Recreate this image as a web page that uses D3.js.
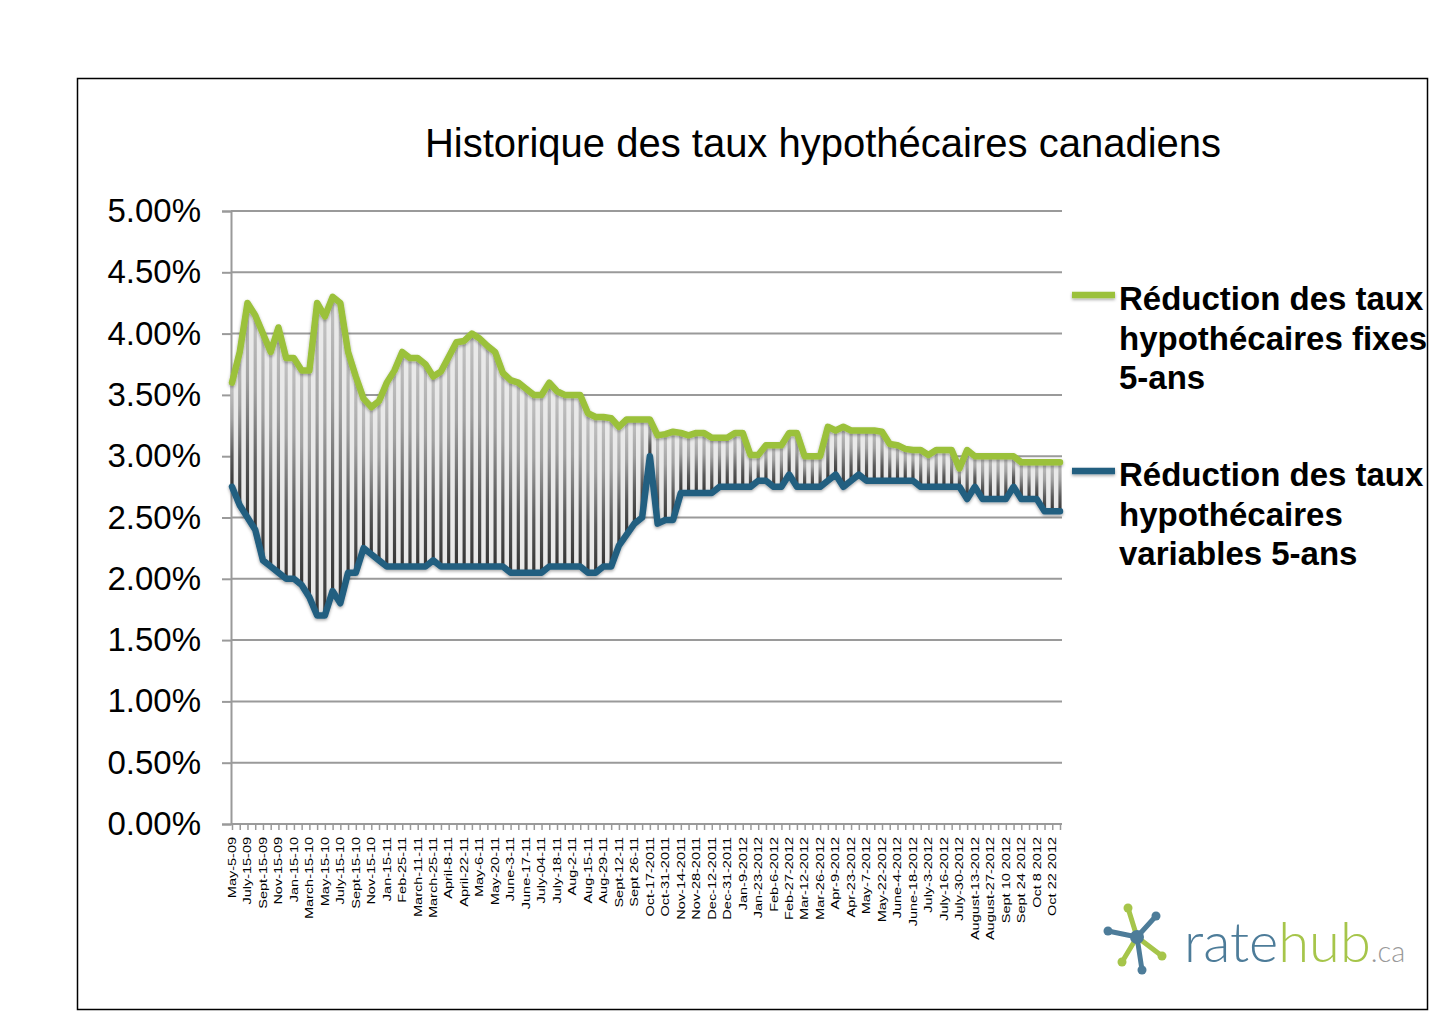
<!DOCTYPE html>
<html>
<head>
<meta charset="utf-8">
<script src="https://cdn.jsdelivr.net/npm/d3@7"></script>
<style>
  html, body { margin: 0; padding: 0; background: #fff; }
  svg { display: block; }
</style>
</head>
<body>
<svg id="chart" width="1437" height="1013"></svg>
<script>
// ---------------- DATA ----------------
const chartTitle = "Historique des taux hypothécaires canadiens";

// Labels shown on the x axis (every second category of the 108 observations)
const shownLabels = [
  "May-5-09","July-15-09","Sept-15-09","Nov-15-09","Jan-15-10","March-15-10","May-15-10",
  "July-15-10","Sept-15-10","Nov-15-10","Jan-15-11","Feb-25-11","March-11-11","March-25-11",
  "April-8-11","April-22-11","May-6-11","May-20-11","June-3-11","June-17-11","July-04-11",
  "July-18-11","Aug-2-11","Aug-15-11","Aug-29-11","Sept-12-11","Sept 26-11","Oct-17-2011",
  "Oct-31-2011","Nov-14-2011","Nov-28-2011","Dec-12-2011","Dec-31-2011","Jan-9-2012",
  "Jan-23-2012","Feb-6-2012","Feb-27-2012","Mar-12-2012","Mar-26-2012","Apr-9-2012",
  "Apr-23-2012","May-7-2012","May-22-2012","June-4-2012","June-18-2012","July-3-2012",
  "July-16-2012","July-30-2012","August-13-2012","August-27-2012","Sept 10 2012",
  "Sept 24 2012","Oct 8 2012","Oct 22 2012"
];

// 5-year fixed rate (%)
const fixedRates = [
  3.60,3.85,4.25,4.15,4.00,3.85,4.05,3.80,3.80,3.70,
  3.70,4.25,4.14,4.30,4.25,3.85,3.65,3.47,3.40,3.45,
  3.60,3.70,3.85,3.80,3.80,3.75,3.65,3.69,3.81,3.93,
  3.94,4.00,3.96,3.90,3.85,3.68,3.62,3.60,3.55,3.50,
  3.50,3.60,3.53,3.50,3.50,3.50,3.35,3.32,3.32,3.31,
  3.24,3.30,3.30,3.30,3.30,3.17,3.18,3.20,3.19,3.17,
  3.19,3.19,3.15,3.15,3.15,3.19,3.19,3.01,3.01,3.09,
  3.09,3.09,3.19,3.19,3.00,3.00,3.00,3.24,3.21,3.24,
  3.21,3.21,3.21,3.21,3.20,3.10,3.09,3.06,3.05,3.05,
  3.01,3.05,3.05,3.05,2.90,3.05,3.00,3.00,3.00,3.00,
  3.00,3.00,2.95,2.95,2.95,2.95,2.95,2.95
];

// 5-year variable rate (%)
const variableRates = [
  2.75,2.60,2.50,2.40,2.15,2.10,2.05,2.00,2.00,1.95,
  1.85,1.70,1.70,1.90,1.80,2.05,2.05,2.25,2.20,2.15,
  2.10,2.10,2.10,2.10,2.10,2.10,2.15,2.10,2.10,2.10,
  2.10,2.10,2.10,2.10,2.10,2.10,2.05,2.05,2.05,2.05,
  2.05,2.10,2.10,2.10,2.10,2.10,2.05,2.05,2.10,2.10,
  2.27,2.36,2.45,2.50,3.00,2.45,2.48,2.48,2.70,2.70,
  2.70,2.70,2.70,2.75,2.75,2.75,2.75,2.75,2.80,2.80,
  2.75,2.75,2.85,2.75,2.75,2.75,2.75,2.80,2.85,2.75,
  2.80,2.85,2.80,2.80,2.80,2.80,2.80,2.80,2.80,2.75,
  2.75,2.75,2.75,2.75,2.75,2.65,2.75,2.65,2.65,2.65,
  2.65,2.75,2.65,2.65,2.65,2.55,2.55,2.55
];

const yTicks = [0,0.5,1,1.5,2,2.5,3,3.5,4,4.5,5];
const yTickLabels = ["0.00%","0.50%","1.00%","1.50%","2.00%","2.50%","3.00%","3.50%","4.00%","4.50%","5.00%"];

const legendFixed = ["Réduction des taux","hypothécaires fixes","5-ans"];
const legendVariable = ["Réduction des taux","hypothécaires","variables 5-ans"];

// ---------------- CHART ----------------
const svg = d3.select("#chart");
const GREEN = "#9bc13b", BLUE = "#245f80", GRID = "#9a9a9a";
const FONT = "'Liberation Sans', Arial, Helvetica, sans-serif";

const n = fixedRates.length;
const idx = d3.range(n);
const x = d3.scalePoint().domain(idx).range([232, 1060]);
const y = d3.scaleLinear().domain([0, 5]).range([824, 211]);

const defs = svg.append("defs");
const bg = defs.append("linearGradient").attr("id","barGrad")
  .attr("x1",0).attr("y1",0).attr("x2",0).attr("y2",1);
bg.append("stop").attr("offset","0%").attr("stop-color","#c4c4c4");
bg.append("stop").attr("offset","35%").attr("stop-color","#a2a2a2");
bg.append("stop").attr("offset","70%").attr("stop-color","#5a5a5a");
bg.append("stop").attr("offset","100%").attr("stop-color","#353535");

const sh = defs.append("filter").attr("id","shadow").attr("filterUnits","userSpaceOnUse")
  .attr("x",0).attr("y",0).attr("width",1437).attr("height",1013);
sh.append("feDropShadow").attr("dx",0).attr("dy",1.5).attr("stdDeviation",1.5)
  .attr("flood-color","#000").attr("flood-opacity",0.35);

// outer border
svg.append("rect").attr("x",77.5).attr("y",78.5).attr("width",1350).attr("height",931)
  .attr("fill","none").attr("stroke","#000").attr("stroke-width",1.5);

// title
svg.append("text").attr("x",823).attr("y",157).attr("text-anchor","middle")
  .attr("font-family",FONT).attr("font-size",40).attr("fill","#000").text(chartTitle);

// gridlines
svg.append("g").selectAll("line").data(yTicks.filter(d => d > 0)).join("line")
  .attr("x1",231).attr("x2",1062).attr("y1",d => y(d)).attr("y2",d => y(d))
  .attr("stroke",GRID).attr("stroke-width",2);

// y axis
const yAxis = d3.axisLeft(y).tickValues(yTicks)
  .tickFormat((d,i) => yTickLabels[i]).tickSize(9).tickPadding(21);
const gy = svg.append("g").attr("transform","translate(231,0)").call(yAxis);
gy.select(".domain").attr("stroke",GRID).attr("stroke-width",2);
gy.selectAll(".tick line").attr("stroke",GRID).attr("stroke-width",2);
gy.selectAll(".tick text").attr("font-family",FONT).attr("font-size",33).attr("fill","#000");

// area between series
const area = d3.area().x(i => x(i)).y0(i => y(variableRates[i])).y1(i => y(fixedRates[i]));
svg.append("path").datum(idx).attr("d",area).attr("fill","#e9e9e9");

// high-low bars
svg.append("g").selectAll("rect").data(idx).join("rect")
  .attr("x",i => x(i) - 1.6).attr("width",3.2)
  .attr("y",i => y(fixedRates[i]))
  .attr("height",i => Math.max(0.5, y(variableRates[i]) - y(fixedRates[i])))
  .attr("fill","url(#barGrad)");

// x axis
const xAxis = d3.axisBottom(x).tickSize(6).tickFormat(() => "");
const gx = svg.append("g").attr("transform","translate(0,824)").call(xAxis);
gx.select(".domain").attr("stroke",GRID).attr("stroke-width",2).attr("d","M231,0H1062");
gx.selectAll(".tick line").attr("stroke",GRID).attr("stroke-width",1.5);

svg.append("g").selectAll("text").data(shownLabels).join("text")
  .attr("transform",(d,k) => `translate(${x(2*k)},837) rotate(-90) scale(1,0.75)`)
  .attr("text-anchor","end").attr("dy","0.35em")
  .attr("font-family",FONT).attr("font-size",14.5).attr("fill","#000")
  .text(d => d);

// series lines
const line = vals => d3.line().x(i => x(i)).y(i => y(vals[i]))(idx);
svg.append("path").attr("d",line(fixedRates)).attr("fill","none")
  .attr("stroke",GREEN).attr("stroke-width",6.5).attr("stroke-linejoin","round")
  .attr("stroke-linecap","round").attr("filter","url(#shadow)");
svg.append("path").attr("d",line(variableRates)).attr("fill","none")
  .attr("stroke",BLUE).attr("stroke-width",6.5).attr("stroke-linejoin","round")
  .attr("stroke-linecap","round").attr("filter","url(#shadow)");

// legend
function legendBlock(yLine, color, lines) {
  svg.append("line").attr("x1",1072).attr("x2",1115).attr("y1",yLine).attr("y2",yLine)
    .attr("stroke",color).attr("stroke-width",6.5).attr("filter","url(#shadow)");
  svg.append("g").selectAll("text").data(lines).join("text")
    .attr("x",1119).attr("y",(d,k) => yLine + 15 + k*39.5)
    .attr("font-family",FONT).attr("font-weight","bold").attr("font-size",33).attr("fill","#000")
    .text(d => d);
}
legendBlock(295, GREEN, legendFixed);
legendBlock(471, BLUE, legendVariable);

// ratehub logo
const logo = svg.append("g");
const c = [1137, 937];
const arms = [
  {to:[1128,908], col:"#a6c54a"}, {to:[1122,962], col:"#a6c54a"}, {to:[1162,956], col:"#a6c54a"},
  {to:[1108,931], col:"#4d7c99"}, {to:[1156,916], col:"#4d7c99"}, {to:[1142,970], col:"#4d7c99"}
];
arms.forEach(a => {
  logo.append("line").attr("x1",c[0]).attr("y1",c[1]).attr("x2",a.to[0]).attr("y2",a.to[1])
    .attr("stroke",a.col).attr("stroke-width",5).attr("stroke-linecap","round");
  logo.append("circle").attr("cx",a.to[0]).attr("cy",a.to[1]).attr("r",4.5).attr("fill",a.col);
});
logo.append("circle").attr("cx",c[0]).attr("cy",c[1]).attr("r",7).attr("fill","#4d7c99");
const lt = logo.append("text").attr("x",1184).attr("y",962)
  .attr("font-family","Lato, 'Open Sans', sans-serif").attr("font-weight",300).attr("font-size",56);
lt.append("tspan").attr("fill","#4d7c99").text("rate");
lt.append("tspan").attr("fill","#a6c54a").text("hub");
lt.append("tspan").attr("fill","#999").attr("font-size",29).text(".ca");
</script>
</body>
</html>
